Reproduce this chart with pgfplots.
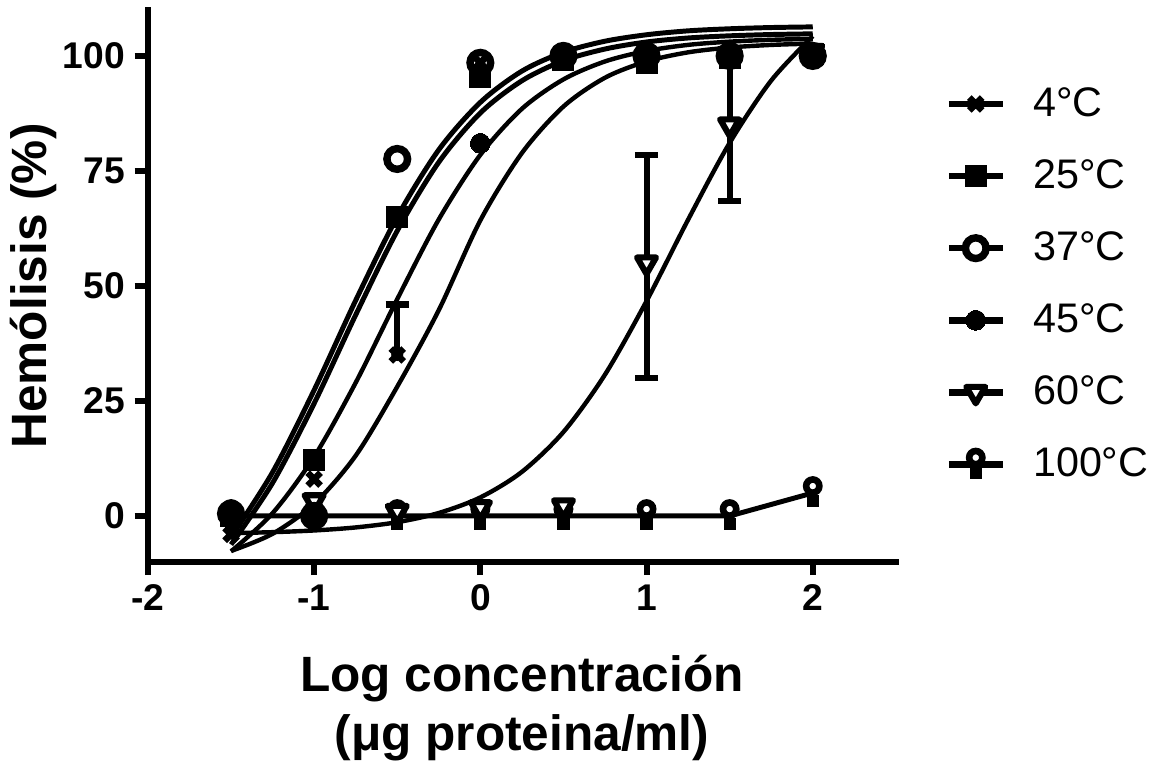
\documentclass[border=0pt]{standalone}
\usepackage{fontspec}
\setmainfont{Liberation Sans}
\usepackage{pgfplots}
\pgfplotsset{compat=1.18}
\usepackage{pgfplotstable}

\pgfdeclareplotmark{bulb}{%
  \pgfsetfillcolor{black}%
  \pgfpathrectangle{\pgfpoint{-2.2pt}{-5.1pt}}{\pgfpoint{4.4pt}{4.4pt}}%
  \pgfusepathqfill
  \pgfsetlinewidth{2.4pt}%
  \pgfsetfillcolor{white}%
  \pgfpathcircle{\pgfpoint{0pt}{2.5pt}}{2.4pt}%
  \pgfusepathqfillstroke
}

% fitted curves (read off the picture)
\pgfplotstableread{
x y
-1.5 -4.56
-1.25 9.5
-1 27.36
-0.75 46.85
-0.5 65.02
-0.25 79.6
0 89.9
0.25 96.7
0.5 100.8
0.75 103.2
1 104.6
1.25 105.45
1.5 105.9
1.75 106.17
2 106.31
}\curveAa
\pgfplotstableread{
x y
-1.5 -6.22
-1.25 7.19
-1 24.46
-0.75 43.7
-0.5 61.98
-0.25 76.9
0 87.6
0.25 94.6
0.5 98.97
0.75 101.5
1 103.03
1.25 103.9
1.5 104.37
1.75 104.65
2 104.8
}\curveAb
\pgfplotstableread{
x y
-1.5 -7.7
-1.25 0.61
-1 12.87
-0.75 28.97
-0.5 47.13
-0.25 64.47
0 78.5
0.25 88.5
0.5 94.9
0.75 98.8
1 101.08
1.25 102.4
1.5 103.1
1.75 103.5
2 103.7
}\curveB
\pgfplotstableread{
x y
-1.5 -7.61
-1.25 -3.87
-1 2.63
-0.75 13.11
-0.5 28.11
-0.25 44.75
0 64.25
0.25 78.89
0.5 89.0
0.75 95.26
1 98.8
1.25 100.78
1.5 101.83
1.75 102.39
2 102.68
}\curveC
\pgfplotstableread{
x y
-1.5 -3.73
-1.25 -3.52
-1 -3.15
-0.75 -2.49
-0.5 -1.35
-0.25 0.65
0 4.03
0.25 9.59
0.5 18.26
0.75 30.73
1 46.72
1.25 64.4
1.5 81.1
1.75 94.65
2 104.3
}\curveD

% data points
\pgfplotstableread{
x y
-1.5 -4
-1 8
-0.5 35
0 98.5
0.5 99.5
1 100
1.5 100
2 101
}\dFour
\pgfplotstableread{
x y
-1.5 0
-1 12.2
-0.5 65
0 95.5
0.5 99
1 98.5
1.5 99.5
2 100.5
}\dTwentyFive
\pgfplotstableread{
x y
-1.5 0.5
-1 0
-0.5 77.6
0 98.5
0.5 100
1 100
1.5 100
2 100
}\dThirtySeven
\pgfplotstableread{
x y
-1.5 0.8
-1 0
0 81
0.5 100.4
1 100
1.5 100
2 99.5
}\dFortyFive
\pgfplotstableread{
x y
-1.5 0.5
-1 3.3
-0.5 1
0 1.8
0.5 2.2
1 55
1.5 85
2 101
}\dSixty
\pgfplotstableread{
x y
-1.5 0
-1 0
-0.5 0
0 0
0.5 0
1 0
1.5 0
2 5
}\dHundred

\begin{document}
\begin{tikzpicture}
\begin{axis}[
  scale only axis, width=271.5pt, height=200.4pt,
  xmin=-2, xmax=2.5, ymin=-10, ymax=110,
  axis lines*=left,
  axis line style={line width=2.2pt, line cap=rect},
  xtick={-2,-1,0,1,2}, ytick={0,25,50,75,100},
  tick align=outside, major tick length=4.8pt,
  tick style={line width=2.2pt, black},
  /pgf/number format/assume math mode=true,
  ticklabel style={font=\bfseries\fontsize{13.5}{13.5}\selectfont},
  xlabel={Log concentración\\(μg proteina/ml)},
  ylabel={Hemólisis (\%)},
  label style={font=\bfseries\fontsize{18}{21.6}\selectfont},
  xlabel style={align=center, at={(axis description cs:0.5,-0.2645)}, anchor=center},
  ylabel style={at={(axis description cs:-0.1537,0.5)}, anchor=center},
  legend style={draw=none, fill=none, at={(axis description cs:1.0656,0.8605)},
    anchor=north west, font=\fontsize{15}{15}\selectfont, row sep=14.2pt,
    inner sep=0pt, nodes={inner sep=0pt}, column sep=9.8pt},
  legend cell align=left,
  legend image code/.code={\draw[mark repeat=2,mark phase=2,#1] plot coordinates {(0pt,0pt) (9.8pt,0pt) (19.6pt,0pt)};},
  clip=false,
]
% legend images
\addlegendimage{black, line width=2.4pt, mark=x, mark size=3.3pt, mark options={line width=2.4pt}}
\addlegendentry{4°C}
\addlegendimage{black, line width=2.4pt, mark=square*, mark size=3.8pt, mark options={line width=0pt}}
\addlegendentry{25°C}
\addlegendimage{black, line width=2.4pt, mark=*, mark size=3.75pt, mark options={fill=white, line width=2.7pt}}
\addlegendentry{37°C}
\addlegendimage{black, line width=2.4pt, mark=*, mark size=3.6pt, mark options={line width=0pt}}
\addlegendentry{45°C}
\addlegendimage{black, line width=2.4pt, mark=triangle*, mark size=4pt, mark options={rotate=180, fill=white, line width=2.2pt, line join=round}}
\addlegendentry{60°C}
\addlegendimage{black, line width=2.4pt, mark=bulb}
\addlegendentry{100°C}

% fitted curves
\addplot[forget plot, black, line width=1.8pt, smooth] table {\curveAa};
\addplot[forget plot, black, line width=1.8pt, smooth] table {\curveAb};
\addplot[forget plot, black, line width=1.6pt, smooth] table {\curveB};
\addplot[forget plot, black, line width=1.6pt, smooth] table {\curveC};
\addplot[forget plot, black, line width=1.6pt, smooth] table {\curveD};
% 100 C connecting line
\addplot[forget plot, black, line width=1.8pt, mark=none] table {\dHundred};

% error bars
\addplot[forget plot, black, only marks, mark=none,
  error bars/.cd, y dir=plus, y explicit, error mark=-,
  error mark options={rotate=90, line width=2.4pt, mark size=4.2pt, black},
  error bar style={line width=2.2pt, black}]
  table[x=x, y=y, y error=e] {
x y e
-0.5 35 11
};
\addplot[forget plot, black, only marks, mark=none,
  error bars/.cd, y dir=both, y explicit, error mark=-,
  error mark options={rotate=90, line width=2.4pt, mark size=4.2pt, black},
  error bar style={line width=2.2pt, black}]
  table[x=x, y=y, y error plus=ep, y error minus=em] {
x y ep em
1 55 23.5 25
1.5 85 16.5 16.5
};

% data markers
\addplot[forget plot, black, only marks, mark=bulb] table {\dHundred};
\addplot[forget plot, black, only marks, mark=triangle*, mark size=4pt, mark options={rotate=180, fill=white, line width=2.2pt, line join=round}] table {\dSixty};
\addplot[forget plot, black, only marks, mark=*, mark size=3.75pt, mark options={fill=white, line width=2.7pt}] table {\dThirtySeven};
\addplot[forget plot, black, only marks, mark=*, mark size=3.6pt, mark options={line width=0pt}] table {\dFortyFive};
\addplot[forget plot, black, only marks, mark=square*, mark size=3.8pt, mark options={line width=0pt}] table {\dTwentyFive};
\addplot[forget plot, black, only marks, mark=x, mark size=3.3pt, mark options={line width=2.4pt}] table {\dFour};
\end{axis}
\pgfresetboundingbox
\path[use as bounding box] (-53.7pt,-74.4pt) rectangle (366.3pt,204.0pt);
\end{tikzpicture}
\end{document}
